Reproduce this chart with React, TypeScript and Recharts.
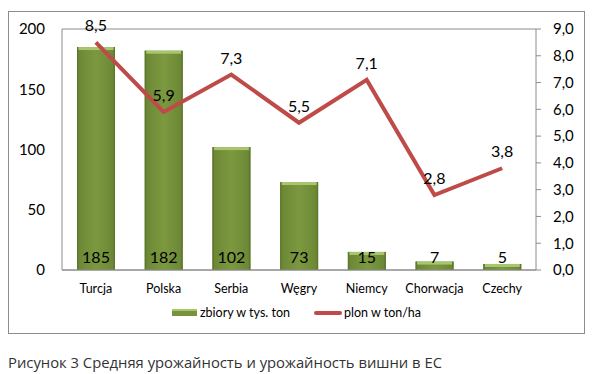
import { ComposedChart, Bar, Line, XAxis, YAxis, CartesianGrid, LabelList } from "recharts";

const countries = ["Turcja", "Polska", "Serbia", "Węgry", "Niemcy", "Chorwacja", "Czechy"];
const harvest = [185, 182, 102, 73, 15, 7, 5];
const yieldPerHa = [8.5, 5.9, 7.3, 5.5, 7.1, 2.8, 3.8];
const leftTicks = [0, 50, 100, 150, 200];
const rightTicks = [0, 1, 2, 3, 4, 5, 6, 7, 8, 9];

const data = countries.map((name, i) => ({ name, zbiory: harvest[i], plon: yieldPerHa[i] }));

const FONT = "Lato, 'Open Sans', sans-serif";
const GREEN = "#77933C";
const RED = "#BE4B48";
const GRID = "#8C8C8C";

const comma = (v: number) => String(v).replace(".", ",");

// bar with a small bevel on top, like the excel preset
function BevelBar(props: any) {
    const { x, y, width, height } = props;
    if (!height || height <= 0) return null;
    const bevel = Math.min(3, height / 2);
    return (
        <g>
            <rect x={x} y={y} width={width} height={height} fill="url(#barGrad)" />
            <rect x={x + 1} y={y} width={width - 2} height={bevel} fill="#A9C66E" />
            <rect x={x} y={y} width={1.5} height={height} fill="#5E7830" />
            <rect x={x + width - 1.5} y={y} width={1.5} height={height} fill="#5E7830" />
        </g>
    );
}

function LegendBox() {
    return (
        <div style={{ display: "flex", justifyContent: "center", alignItems: "center", fontFamily: FONT, fontSize: 12.5, color: "#000" }}>
            <span style={{ display: "inline-block", width: 25, height: 7, background: GREEN, borderTop: "2px solid #A9C66E", boxSizing: "border-box", marginRight: 3 }} />
            <span style={{ marginRight: 24 }}>zbiory w tys. ton</span>
            <span style={{ display: "inline-block", width: 28, height: 4, background: RED, borderRadius: 2, marginRight: 2 }} />
            <span>plon w ton/ha</span>
        </div>
    );
}

export default function App() {
    return (
        <div>
            <div style={{ position: "relative", marginTop: 3, width: 577, height: 323, border: `1px solid ${GRID}`, boxSizing: "border-box", background: "#fff" }}>
                <ComposedChart
                    width={575}
                    height={321}
                    data={data}
                    margin={{ top: 17, right: 0, bottom: 33, left: 0 }}
                    style={{ fontFamily: FONT }}
                >
                    <defs>
                        <linearGradient id="barGrad" x1="0" y1="0" x2="1" y2="0">
                            <stop offset="0%" stopColor="#6A8634" />
                            <stop offset="50%" stopColor="#7C9940" />
                            <stop offset="100%" stopColor="#6A8634" />
                        </linearGradient>
                    </defs>
                    <CartesianGrid vertical={false} stroke={GRID} strokeWidth={1} />
                    <XAxis
                        dataKey="name"
                        height={30}
                        tick={{ fontSize: 12.5, fill: "#000" }}
                        axisLine={{ stroke: GRID }}
                        tickLine={false}
                        tickMargin={8}
                        interval={0}
                    />
                    <YAxis
                        yAxisId="left"
                        width={53}
                        domain={[0, 200]}
                        ticks={leftTicks}
                        tick={{ fontSize: 15, fill: "#000" }}
                        axisLine={{ stroke: GRID }}
                        tickLine={false}
                        tickSize={0}
                        tickMargin={17}
                    />
                    <YAxis
                        yAxisId="right"
                        orientation="right"
                        width={48}
                        domain={[0, 9]}
                        ticks={rightTicks}
                        tickFormatter={(v: number) => v.toFixed(1).replace(".", ",")}
                        tick={{ fontSize: 15, fill: "#000" }}
                        axisLine={{ stroke: GRID }}
                        tickLine={{ stroke: GRID }}
                        tickSize={5}
                        tickMargin={12}
                    />
                    <Bar yAxisId="left" dataKey="zbiory" barSize={38} shape={<BevelBar />} isAnimationActive={false}>
                        <LabelList dataKey="zbiory" position="insideBottom" offset={7} fill="#000" fontSize={16} />
                    </Bar>
                    <Line
                        yAxisId="right"
                        dataKey="plon"
                        type="linear"
                        stroke={RED}
                        strokeWidth={4}
                        dot={false}
                        activeDot={false}
                        isAnimationActive={false}
                    >
                        <LabelList dataKey="plon" position="top" offset={11} fill="#000" fontSize={16} formatter={(v: any) => comma(v)} />
                    </Line>
                </ComposedChart>
                <div style={{ position: "absolute", top: 293, left: 0, width: 575 }}>
                    <LegendBox />
                </div>
            </div>
            <div style={{ marginTop: 18, fontFamily: "'Open Sans', sans-serif", fontSize: 14.8, color: "#333" }}>
                Рисунок 3 Средняя урожайность и урожайность вишни в ЕС
            </div>
        </div>
    );
}
